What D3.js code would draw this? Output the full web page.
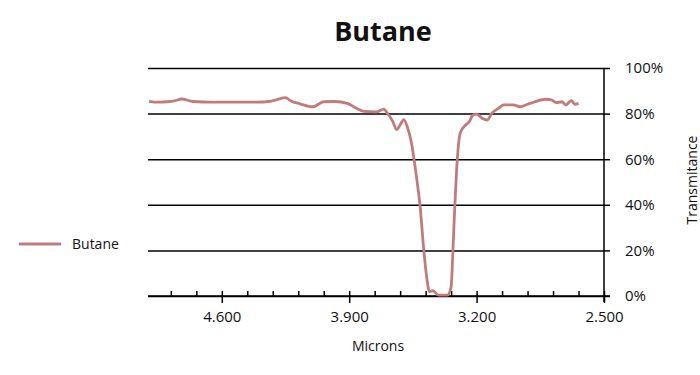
<!DOCTYPE html>
<html>
	<head>
		<meta charset="utf-8">
		<title>Butane</title>
		<script src="https://cdn.jsdelivr.net/npm/d3@7"></script>
		<style>
			body { margin: 0; background: #fff; }
			text { font-family: "Open Sans", sans-serif; fill: #111; }
		</style>
	</head>
	<body>
		<script>
			var w = 700;
			var h = 375;

			var seriesName = "Butane";
			// wavelength (microns)
			var microns = [5.00, 4.95, 4.90, 4.86, 4.82, 4.76, 4.65, 4.52, 4.41, 4.34, 4.30, 4.25, 4.22, 4.17,
				4.10, 4.04, 3.98, 3.91, 3.86, 3.82, 3.75, 3.71, 3.69, 3.66, 3.64, 3.62, 3.60, 3.58, 3.56,
				3.53, 3.51, 3.49, 3.47, 3.46, 3.44, 3.41, 3.36, 3.34, 3.33, 3.32, 3.31, 3.30, 3.29, 3.26,
				3.24, 3.22, 3.20, 3.17, 3.14, 3.12, 3.08, 3.05, 3.00, 2.96, 2.92, 2.88, 2.82, 2.79, 2.76,
				2.73, 2.71, 2.68, 2.66, 2.64];
			// transmitance in %
			var transmit = [85.4, 85.0, 85.2, 85.6, 86.4, 85.3, 85.0, 85.0, 85.0, 85.3, 86.0, 87.0, 85.5, 84.3,
				83.0, 85.2, 85.3, 84.5, 82.3, 81.0, 80.8, 82.0, 80.1, 76.5, 73.0, 75.0, 77.4, 74.0, 68.0,
				52.0, 39.0, 20.0, 5.7, 1.9, 2.3, 0.4, 0.4, 4.0, 20.0, 39.0, 55.0, 66.0, 71.5, 75.0,
				76.5, 79.4, 79.8, 78.0, 77.2, 79.8, 82.3, 83.8, 83.8, 83.0, 84.1, 85.2, 86.3, 86.0, 84.8,
				85.2, 83.8, 85.7, 84.1, 84.5];

			var xMajorTicks = [4.6, 3.9, 3.2, 2.5];
			var xMinorTicks = [4.88, 4.74, 4.46, 4.32, 4.18, 4.04, 3.76, 3.62, 3.48, 3.34, 3.06, 2.92, 2.78, 2.64];
			var yTicks = [0, 20, 40, 60, 80, 100];

			var data = microns.map(function(m, i) { return [m, transmit[i]]; });

			var xScale = d3.scaleLinear()
				.domain([5.0, 2.5])
				.range([149, 604]);

			var yScale = d3.scaleLinear()
				.domain([0, 100])
				.range([296, 68]);

			var svg = d3.select("body")
				.append("svg")
				.attr("width", w)
				.attr("height", h);

			// horizontal grid lines
			svg.append("g")
				.attr("class", "grid")
				.attr("transform", "translate(604,0)")
				.call(d3.axisRight(yScale).tickValues(yTicks).tickSizeInner(-456).tickSizeOuter(0).tickFormat(""))
				.call(function(g) { g.select(".domain").remove(); })
				.selectAll("line")
				.attr("stroke", "#000")
				.attr("stroke-width", 1.5);

			// right axis with labels
			var yAxisG = svg.append("g")
				.attr("transform", "translate(604,0)")
				.call(d3.axisRight(yScale).tickValues(yTicks).tickSize(6).tickPadding(15)
					.tickFormat(function(d) { return d + "%"; }));
			yAxisG.select(".domain").attr("stroke-width", 1.5).attr("d", "M0,68V302");
			yAxisG.selectAll("line").attr("stroke-width", 1.5);
			yAxisG.selectAll("text").style("font-size", "15px").attr("fill", "#111");

			// x axis: minor ticks pointing up
			var xMinorG = svg.append("g")
				.attr("transform", "translate(0,296)")
				.call(d3.axisBottom(xScale).tickValues(xMinorTicks.concat(xMajorTicks)).tickSizeInner(-5).tickSizeOuter(0).tickFormat(""));
			xMinorG.select(".domain").attr("stroke-width", 1.5).attr("d", "M148,0H610");
			xMinorG.selectAll("line").attr("stroke-width", 1.5);

			// x axis: major ticks pointing down with labels
			var xAxisG = svg.append("g")
				.attr("transform", "translate(0,296)")
				.call(d3.axisBottom(xScale).tickValues(xMajorTicks).tickSize(7).tickPadding(8).tickFormat(d3.format(".3f")));
			xAxisG.select(".domain").remove();
			xAxisG.selectAll("line").attr("stroke-width", 1.5);
			xAxisG.selectAll("text").style("font-size", "15px").attr("fill", "#111");

			// the series
			var line = d3.line()
				.x(function(d) { return xScale(d[0]); })
				.y(function(d) { return yScale(d[1]); })
				.curve(d3.curveMonotoneX);

			svg.append("path")
				.datum(data)
				.attr("fill", "none")
				.attr("stroke", "#c27b7c")
				.attr("stroke-width", 2.8)
				.attr("stroke-linejoin", "round")
				.attr("d", line);

			// title
			svg.append("text")
				.attr("x", 383)
				.attr("y", 41)
				.attr("text-anchor", "middle")
				.style("font-size", "27px")
				.style("font-weight", "bold")
				.text(seriesName);

			// axis titles
			svg.append("text")
				.attr("x", 378)
				.attr("y", 351)
				.attr("text-anchor", "middle")
				.style("font-size", "14px")
				.text("Microns");

			svg.append("text")
				.attr("transform", "translate(697,180) rotate(-90)")
				.attr("text-anchor", "middle")
				.style("font-size", "14px")
				.text("Transmitance");

			// legend
			svg.append("line")
				.attr("x1", 19)
				.attr("x2", 61)
				.attr("y1", 244)
				.attr("y2", 244)
				.attr("stroke", "#c27b7c")
				.attr("stroke-width", 2.8);

			svg.append("text")
				.attr("x", 72)
				.attr("y", 249)
				.style("font-size", "14px")
				.text(seriesName);
		</script>
	</body>
</html>
